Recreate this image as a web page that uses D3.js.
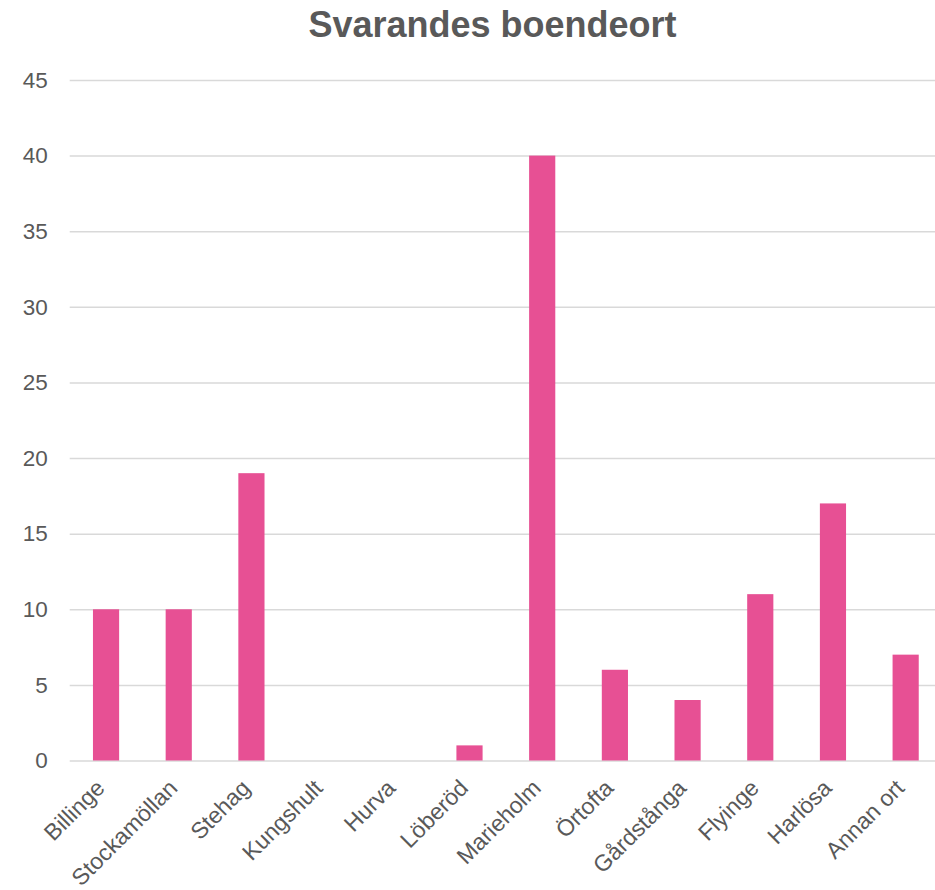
<!DOCTYPE html>
<html><head><meta charset="utf-8">
<script src="https://cdn.jsdelivr.net/npm/d3@7"></script>
<style>body{margin:0;background:#fff;overflow:hidden}</style>
</head><body>
<script>
const title = "Svarandes boendeort";
const categories = ["Billinge","Stockamöllan","Stehag","Kungshult","Hurva","Löberöd","Marieholm","Örtofta","Gårdstånga","Flyinge","Harlösa","Annan ort"];
const values = [10,10,19,0,0,1,40,6,4,11,17,7];
const yTicks = [0,5,10,15,20,25,30,35,40,45];

const W = 935, H = 890;
const svg = d3.select("body").append("svg").attr("width", W).attr("height", H);
const font = "'Liberation Sans', Arial, sans-serif";
const gray = "#595959";

const x = d3.scaleBand().domain(categories).range([69.7, 942]).paddingInner(0.64).paddingOuter(0.32);
const y = d3.scaleLinear().domain([0,45]).range([760.5, 80]);

svg.append("text").attr("x", 492.5).attr("y", 37).attr("text-anchor","middle")
  .attr("font-family", font).attr("font-weight","bold").attr("font-size", 36)
  .attr("fill", gray).text(title);

const gy = svg.append("g").attr("transform","translate(69.7,0)")
  .call(d3.axisLeft(y).tickValues(yTicks).tickSize(-(942-69.7)).tickPadding(22));
gy.select(".domain").remove();
gy.selectAll(".tick line").attr("stroke","#d9d9d9").attr("stroke-width",1.5);
gy.selectAll(".tick text").attr("font-family", font).attr("font-size", 22.5).attr("fill", gray);

svg.append("g").selectAll("rect").data(values).join("rect")
  .attr("x",(d,i)=>x(categories[i])).attr("width", x.bandwidth())
  .attr("y", d=>y(d)).attr("height", d=>y(0)-y(d)).attr("fill","#e75094");

const gx = svg.append("g").attr("transform",`translate(0,${y(0)})`)
  .call(d3.axisBottom(x).tickSize(0).tickPadding(0));
gx.select(".domain").remove();
gx.selectAll(".tick text").attr("font-family", font).attr("font-size", 23).attr("fill", gray)
  .attr("text-anchor","end").attr("dy", null).attr("y", 0)
  .attr("transform","translate(0,29) rotate(-45)");
</script>
</body></html>
